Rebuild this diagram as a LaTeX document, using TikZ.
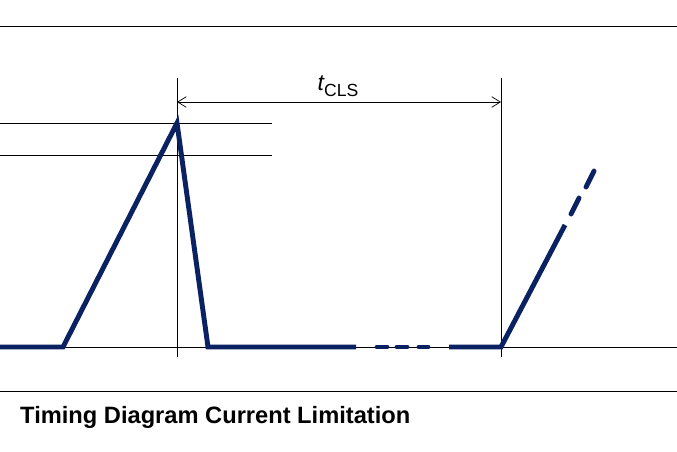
\documentclass[tikz,border=0pt]{standalone}
\usepackage{fontspec}
\setmainfont{Liberation Sans}
\usetikzlibrary{arrows.meta}
\definecolor{sigBlue}{HTML}{0A2262}

\begin{document}
\begin{tikzpicture}[
    x=0.03cm, y=-0.03cm,
    thin line/.style={draw=black, line width=0.6pt},
    signal/.style={draw=sigBlue, line width=4.2pt},
    sigdash/.style={signal, line cap=round},
    dimarrow/.style={thin line, {Straight Barb[length=2.6mm,width=3.2mm]}-{Straight Barb[length=2.6mm,width=3.2mm]}},
    lbl/.style={inner sep=0pt, font=\fontsize{19.5}{22}\selectfont},
  ]
    \useasboundingbox (0,0) rectangle (677,451);

    % frame lines
    \draw[thin line] (0,26) -- (677,26);
    \draw[thin line] (0,391) -- (677,391);
    \draw[thin line] (0,347) -- (677,347);

    % levels
    \draw[thin line] (0,123) -- (272,123);
    \draw[thin line] (0,155) -- (272,155);

    % time markers
    \coordinate (m1top) at (177,78);
    \coordinate (m1bot) at (177,357);
    \coordinate (m2top) at (501,78);
    \coordinate (m2bot) at (501,357);
    \draw[thin line] (m1top) -- (m1bot);
    \draw[thin line] (m2top) -- (m2bot);

    \coordinate (tA) at (177,102);
    \coordinate (tB) at (501,102);
    \draw[dimarrow] (tA) -- (tB);
    \node[lbl, anchor=base] (tcls) at (338,90)
      {\itshape t\upshape\fontsize{15}{17}\selectfont\raisebox{-5.8pt}{CLS}};

    % signal
    \coordinate (s0) at (0,347);
    \coordinate (s1) at (63,347);
    \coordinate (peak) at (177,123);
    \coordinate (s2) at (208,347);
    \coordinate (s3) at (356,347);
    \coordinate (s4) at (449,347);
    \coordinate (s5) at (501,347);
    \coordinate (s6) at (565,225);
    \draw[signal] (s0) -- (s1) -- (peak) -- (s2) -- (s3);
    \draw[signal] (s4) -- (s5) -- (s6);
    \foreach \xa/\xb in {377/387, 397/407, 419/428}
      \draw[sigdash] (\xa,347) -- (\xb,347);
    \draw[sigdash] (571,214) -- (579,198);
    \draw[sigdash] (586,187) -- (594,171);

    \node[anchor=base west, inner sep=0pt, font=\fontsize{20.2}{23}\selectfont\bfseries]
      (title) at (20,423) {Timing Diagram Current Limitation};
\end{tikzpicture}
\end{document}
